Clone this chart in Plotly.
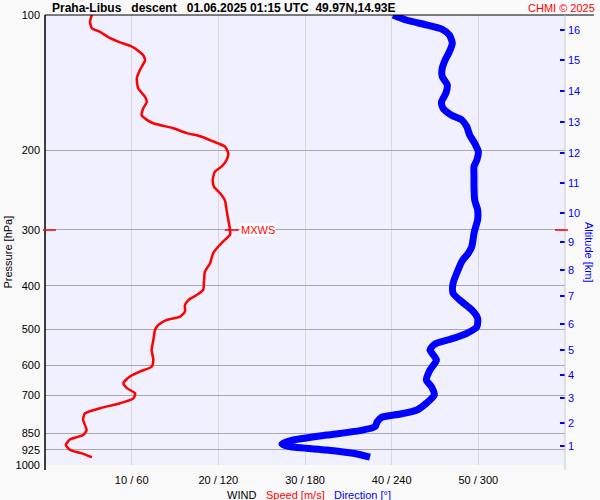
import math
import plotly.graph_objects as go

# ---- data ----
P_SPEED = [100, 103.5, 107, 109, 112, 115, 117, 120, 123, 126, 132.5, 138, 145.5, 152, 156, 161,
           167, 171, 174, 178.5, 183, 186, 191, 196, 203, 210, 217, 223, 233, 241, 249, 258, 271,
           285.5, 300.5, 308, 316, 327, 338.5, 356, 372, 391, 408, 419, 430, 441, 456, 468, 476,
           489, 501, 527.5, 555, 584, 605, 620, 636, 658, 675, 693, 711, 729, 748, 768, 794, 836,
           858, 877, 903, 926, 942, 961]
SPEED = [5.4, 5.2, 5.4, 6.35, 7.3, 8.65, 9.8, 10.75, 11.35, 11.55, 10.95, 10.6, 10.75, 11.55, 11.75, 11.35,
         11.15, 11.75, 12.5, 14.8, 16.35, 17.9, 19.4, 20.75, 21.15, 20.95, 20.4, 19.6, 19.35, 19.5, 20.2, 20.75, 20.95,
         21.15, 21.35, 21.35, 20.75, 20.0, 19.4, 19.05, 18.45, 18.35, 18.25, 17.5, 16.55, 16.15, 16.15, 15.6, 14.05,
         13.05, 12.7, 12.5, 12.3, 12.5, 12.3, 10.95, 9.8, 9.05, 9.45, 10.4, 10.2, 8.65, 6.35, 4.6, 4.4, 4.8,
         4.4, 2.9, 2.4, 2.9, 4.25, 5.4]

P_DIR = [100, 102.6, 105.2, 107.6, 110.8, 115.6, 120.6, 126, 131.4, 137.1, 143.1, 149.3, 156, 161, 167, 171,
         177.1, 184.8, 192.8, 201.3, 210, 217, 228.7, 241, 258, 271, 285.5, 300.5, 305.6, 327, 338.5, 353.3,
         375, 394.6, 415.3, 433.6, 452.4, 472.1, 492.8, 509.7, 525.6, 538.3, 555, 584, 615.2, 647.4, 669.9,
         698.9, 729, 754.5, 770.4, 783.4, 801.3, 822, 839, 858, 880, 898, 910.6, 926, 942, 961]
DIRECTION = [241, 250, 264, 275, 280, 282, 280, 277, 275, 275, 278.5, 277.5, 274.5, 275.5, 281.5, 288.5,
             292, 294, 297.5, 300, 299, 297, 297, 297, 297.5, 299.5, 299.5, 297.5, 297, 295.5, 293, 288.5,
             285, 282.5, 282.5, 288.5, 295.5, 299.5, 299, 292, 280.5, 270, 266.5, 271, 266.5, 264, 267.5,
             269.5, 264, 257.5, 246, 233, 230, 228.5, 218, 195, 172, 164, 169.5, 195, 213.5, 225]

P_TICKS = [100, 200, 300, 400, 500, 600, 700, 850, 925, 1000]
SPEED_TICKS = [10, 20, 30, 40, 50]
DIR_TICKS = [60, 120, 180, 240, 300]
ALT_KM = [1, 2, 3, 4, 5, 6, 7, 8, 9, 10, 11, 12, 13, 14, 15, 16]
ALT_P = [906, 807.7, 710.8, 631.9, 555.3, 486.1, 421.9, 369.2, 320.1, 275.9, 236.6, 202.9, 173.1, 147.3, 126.1, 108.0]

TITLE = "Praha-Libus   descent   01.06.2025 01:15 UTC  49.97N,14.93E"
COPYRIGHT = "CHMI © 2025"

FONT = "Liberation Sans, Arial, sans-serif"
NB = lambda s: s.replace(" ", "\u00a0")

fig = go.Figure()
fig.add_trace(go.Scatter(x=DIRECTION, y=P_DIR, xaxis="x2", yaxis="y", mode="lines",
                         line=dict(color="#0000ff", width=7, shape="spline", smoothing=0.6),
                         hoverinfo="skip"))
fig.add_trace(go.Scatter(x=SPEED, y=P_SPEED, mode="lines",
                         line=dict(color="#ff0000", width=2.5, shape="spline", smoothing=0.6),
                         hoverinfo="skip"))
fig.add_trace(go.Scatter(x=[None], y=[None], yaxis="y2", mode="lines", hoverinfo="skip"))

# maximum wind
imax = max(range(len(SPEED)), key=lambda i: SPEED[i])
smax, pmax = SPEED[imax], P_SPEED[imax]
fig.add_trace(go.Scatter(x=[smax - 0.6, smax + 1.0], y=[pmax, pmax], mode="lines",
                         line=dict(color="#ff0000", width=1.5), hoverinfo="skip"))

fig.update_layout(
    template="none",
    width=600, height=500,
    margin=dict(l=45, r=35, t=15, b=35, pad=0, autoexpand=False),
    paper_bgcolor="#f9f9f9", plot_bgcolor="#f0f0ff",
    showlegend=False,
    font=dict(family=FONT, size=11, color="black"),
    xaxis=dict(range=[0, 60], tickvals=SPEED_TICKS, automargin=False,
               ticktext=[f"{s} / {d}" for s, d in zip(SPEED_TICKS, DIR_TICKS)],
               showgrid=True, gridcolor="#d8d8d8", gridwidth=1, zeroline=False, showline=False,
               ticks="", tickfont=dict(size=11, color="black"), ticklabelstandoff=7),
    xaxis2=dict(overlaying="x", range=[0, 360], visible=False, automargin=False),
    yaxis=dict(type="log", range=[3, 2], tickvals=P_TICKS, ticktext=[str(p) for p in P_TICKS],
               automargin=False,
               showgrid=True, gridcolor="#a8a8a8", gridwidth=1, zeroline=False, showline=False,
               ticks="", tickfont=dict(size=11, color="black"), ticklabelstandoff=4),
    yaxis2=dict(type="log", overlaying="y", side="right", range=[3, 2], tickvals=ALT_P,
                automargin=False,
                ticktext=[str(a) for a in ALT_KM], showgrid=False, zeroline=False, showline=False,
                ticks="inside", ticklen=5, tickwidth=2, tickcolor="#0000ff",
                tickfont=dict(size=11, color="#0000ff"), ticklabelstandoff=2),
)

def px(x):
    return (x - 45) / 520

def py(y):
    return (465 - y) / 450

shapes = [
    dict(type="line", xref="paper", yref="paper", x0=0, x1=px(594), y0=1, y1=1,
         line=dict(color="black", width=1)),
    dict(type="line", xref="paper", yref="paper", x0=0, x1=0, y0=1, y1=py(470),
         line=dict(color="black", width=1.5)),
    dict(type="line", xref="paper", yref="paper", x0=1, x1=1, y0=1, y1=py(470),
         line=dict(color="#c8c8c8", width=1)),
    dict(type="line", xref="paper", yref="y", x0=px(43), x1=px(56), y0=pmax, y1=pmax,
         line=dict(color="#ff0000", width=1.5)),
    dict(type="line", xref="paper", yref="y", x0=px(555), x1=px(568), y0=pmax, y1=pmax,
         line=dict(color="#ff0000", width=1.5)),
]
fig.update_layout(shapes=shapes)

ann = [
    dict(text=NB(TITLE), x=px(50), y=py(8), xref="paper", yref="paper", xanchor="left", yanchor="middle",
         showarrow=False, font=dict(size=12, color="black", family=FONT, weight="bold")),
    dict(text=NB(COPYRIGHT), x=px(597), y=py(8), xref="paper", yref="paper", xanchor="right", yanchor="middle",
         showarrow=False, font=dict(size=11, color="#ff0000")),
    dict(text=NB("Pressure [hPa]"), x=px(7.5), y=py(252), xref="paper", yref="paper", textangle=-90,
         xanchor="center", yanchor="middle", showarrow=False, font=dict(size=11, color="black")),
    dict(text=NB("Altitude [km]"), x=px(589), y=py(252), xref="paper", yref="paper", textangle=90,
         xanchor="center", yanchor="middle", showarrow=False, font=dict(size=11, color="#0000ff")),
    dict(text="WIND", x=px(225), y=py(495), xref="paper", yref="paper", xanchor="left", yanchor="middle",
         showarrow=False, font=dict(size=11, color="black")),
    dict(text=NB("Speed [m/s]"), x=px(264), y=py(495), xref="paper", yref="paper", xanchor="left",
         yanchor="middle", showarrow=False, font=dict(size=11, color="#ff0000")),
    dict(text=NB("Direction [°]"), x=px(332), y=py(495), xref="paper", yref="paper", xanchor="left",
         yanchor="middle", showarrow=False, font=dict(size=11, color="#0000ff")),
    dict(text="MXWS", x=smax, y=math.log10(pmax), xref="x", yref="y", xanchor="left", yanchor="middle",
         xshift=10, showarrow=False, bgcolor="white", borderpad=0, font=dict(size=11, color="#ff0000")),
]
fig.update_layout(annotations=ann)

fig.write_html("out.html", config={"displayModeBar": False},
               post_script="document.body.style.margin='0px';document.body.style.overflow='hidden';")
